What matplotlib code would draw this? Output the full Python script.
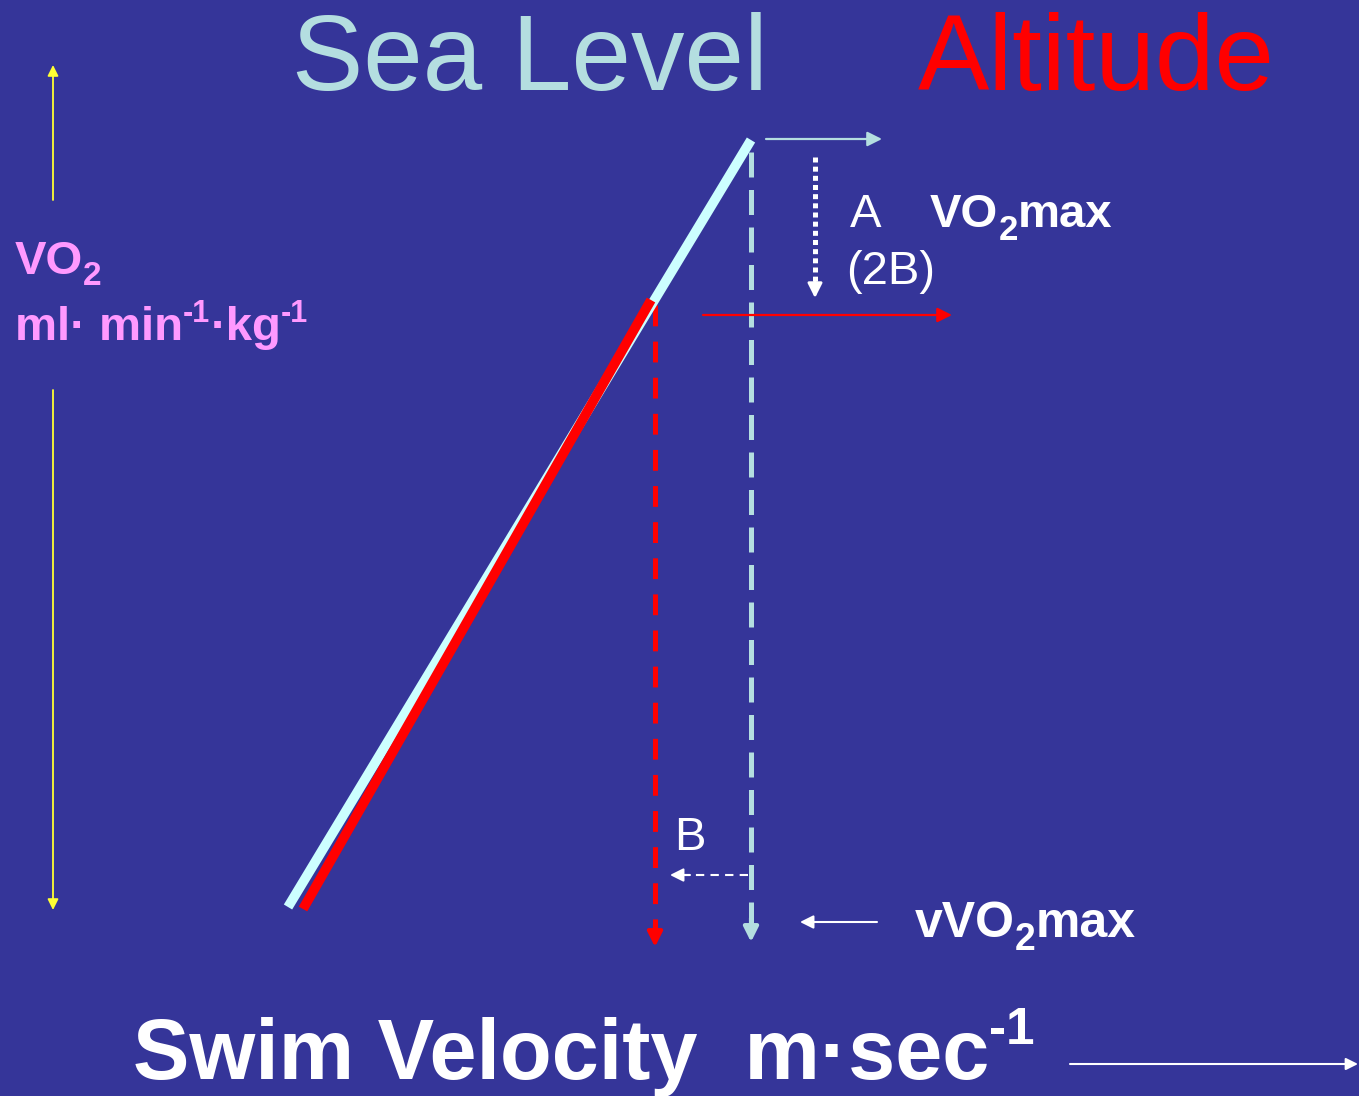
import matplotlib
matplotlib.use('Agg')
import matplotlib.pyplot as plt

# ---------------------------------------------------------
# Diagram data (schematic units: x = swim velocity, y = VO2, canvas-like scale)
# ---------------------------------------------------------
sea_level_v = [288, 751]
sea_level_vo2 = [907, 140]
altitude_v = [303, 651]
altitude_vo2 = [909, 300]

vvo2max_sea = 751      # velocity at VO2max, sea level
vvo2max_alt = 655      # velocity at VO2max, altitude
vo2max_sea = 139       # VO2max level, sea level
vo2max_alt = 315       # VO2max level, altitude

titles = ['Sea Level', 'Altitude']

BG = '#353599'
CYAN = '#CCFFFF'
CYAN_DASH = '#B4DEE0'
RED = '#FF0000'
PINK = '#FF99FF'
YELLOW = '#FFFF33'

plt.rcParams['font.family'] = ['Liberation Sans', 'DejaVu Sans']
plt.rcParams['lines.scale_dashes'] = False

fig = plt.figure(figsize=(13.59, 10.96), dpi=100, facecolor=BG)
ax = fig.add_axes([0, 0, 1, 1])
ax.set_facecolor(BG)
ax.set_xlim(0, 1359)
ax.set_ylim(1096, 0)
ax.axis('off')


def arrow(x0, y0, x1, y1, color, lw=1.5, scale=18, ls='-'):
    ax.annotate('', xy=(x1, y1), xytext=(x0, y0),
                arrowprops=dict(arrowstyle='-|>', color=color, lw=lw,
                                mutation_scale=scale, shrinkA=0, shrinkB=0,
                                linestyle=ls))


def rich(x, y, parts, color, weight='bold'):
    # parts: (text, fontsize, baseline shift in points)
    s, fs, dy = parts[0]
    t = ax.annotate(s, xy=(x, y), xytext=(0, dy), textcoords='offset points',
                    fontsize=fs, color=color, fontweight=weight, va='baseline')
    for s, fs, dy in parts[1:]:
        t = ax.annotate(s, xy=(1, y), xycoords=(t, 'data'), xytext=(0, dy),
                        textcoords='offset points', fontsize=fs, color=color,
                        fontweight=weight, va='baseline')


# relationship lines
ax.plot(sea_level_v, sea_level_vo2, color=CYAN, lw=7, solid_capstyle='butt', zorder=3)
ax.plot(altitude_v, altitude_vo2, color=RED, lw=7, solid_capstyle='butt', zorder=4)

# dashed verticals down to vVO2max
ax.plot([vvo2max_sea, vvo2max_sea], [152, 925], color=CYAN_DASH, lw=3.6,
        ls=(0, (18, 9)), solid_capstyle='butt')
arrow(vvo2max_sea, 918, vvo2max_sea, 942, CYAN_DASH, lw=3, scale=22)
ax.plot([vvo2max_alt, vvo2max_alt], [305, 930], color=RED, lw=3.6,
        ls=(0, (15, 11)))
arrow(vvo2max_alt, 925, vvo2max_alt, 947, RED, lw=3, scale=22)

# VO2max horizontal arrows
arrow(766, vo2max_sea, 882, vo2max_sea, CYAN_DASH, lw=1.6, scale=22)
arrow(703, vo2max_alt, 952, vo2max_alt, RED, lw=1.6, scale=22)

# A: dotted drop in VO2max
ax.plot([815, 815], [157, 282], color='white', lw=3.6, ls=(0, (3.6, 3)))
arrow(815, 280, 815, 298, 'white', lw=2, scale=22)

# B: drop in vVO2max
ax.plot([748, 685], [875, 875], color='white', lw=1.5, ls=(0, (6, 4.5)))
arrow(690, 875, 670, 875, 'white', lw=1.5, scale=20)

# vVO2max pointer
arrow(877, 922, 800, 922, 'white', lw=1.5, scale=20)

# y-axis yellow arrows
arrow(53, 200, 53, 65, YELLOW, lw=1.3, scale=16)
arrow(53, 390, 53, 910, YELLOW, lw=1.3, scale=16)

# x-axis arrow
arrow(1070, 1064, 1358, 1064, 'white', lw=1.5, scale=18)

# texts
ax.text(530, 90, titles[0], color=CYAN_DASH, fontsize=77, ha='center', va='baseline')
ax.text(918, 90, titles[1], color=RED, fontsize=77, ha='left', va='baseline')

ax.text(850, 227, 'A', color='white', fontsize=34, va='baseline')
rich(930, 227, [('VO', 34, 0), ('2', 25, -9.5), ('max', 34, 0)], 'white')
ax.text(846, 284, '(2B)', color='white', fontsize=34, va='baseline')
ax.text(674, 850, 'B', color='white', fontsize=34, va='baseline')
rich(915, 937, [('vVO', 36, 0), ('2', 27, -9.5), ('max', 36, 0)], 'white')

rich(15, 274, [('VO', 34, 0), ('2', 24, -8)], PINK)
rich(15, 340, [('ml· min', 34, 0), ('-1', 22, 13), ('·kg', 34, 0), ('-1', 22, 13)], PINK)

rich(133, 1079, [('Swim Velocity  m·sec', 61, 0), ('-1', 37, 25)], 'white')

fig.savefig('out.png', dpi=100, facecolor=BG)
